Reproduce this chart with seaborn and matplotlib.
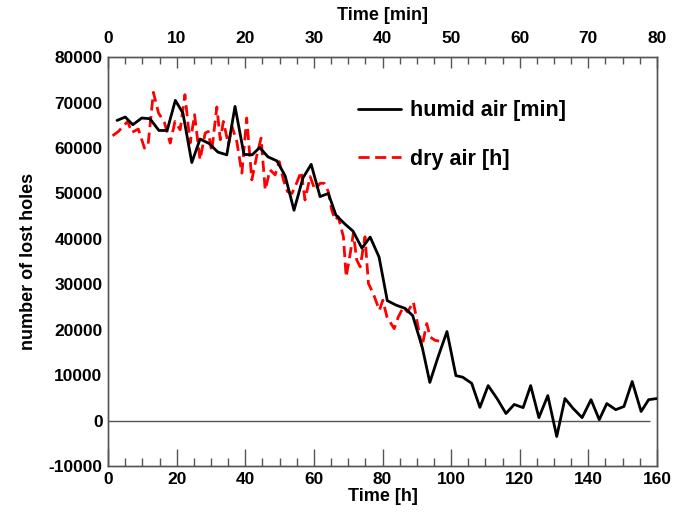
import numpy as np
import pandas as pd
import matplotlib
matplotlib.use("Agg")
import matplotlib.pyplot as plt
from matplotlib.ticker import MultipleLocator
import seaborn as sns

# humid air: time in minutes (top axis), number of lost holes
humid_min = [1.3, 2.5, 3.6, 4.9, 6.1, 7.4, 8.6, 9.8, 10.9, 12.2, 13.4, 14.7, 16.0,
             17.3, 18.5, 19.8, 21.0, 22.1, 23.3, 24.6, 25.8, 27.1, 28.4, 29.6, 30.9,
             32.1, 33.2, 34.5, 35.7, 37.0, 38.2, 39.5, 40.7, 42.0, 43.3, 44.4, 45.8,
             46.9, 48.1, 49.4, 50.7, 51.7, 53.0, 54.2, 55.4, 56.7, 58.0, 59.2, 60.5,
             61.6, 62.8, 64.1, 65.4, 66.6, 67.8, 69.1, 70.4, 71.6, 72.7, 74.0, 75.2,
             76.4, 77.7, 78.8, 80.0]
humid_vals = [66070, 66820, 65120, 66600, 66450, 63860, 63860, 70490, 67700, 56800,
              61970, 61000, 59100, 58500, 69160, 58600, 58500, 60100, 58050, 57170,
              53900, 46300, 53400, 56400, 49300, 50000, 45250, 43300, 41700, 37950,
              40400, 36000, 26400, 25400, 24700, 23100, 16100, 8400, 14000, 19600,
              9900, 9550, 8200, 2900, 7700, 4850, 1550, 3550, 2850, 7700, 650, 5500,
              -3500, 4850, 2650, 650, 4600, 200, 3750, 2400, 3100, 8600, 2000, 4600,
              4850]

# dry air: time in hours (bottom axis)
dry_h = [1.3, 3.0, 5.7, 6.9, 8.8, 10.6, 11.6, 13.2, 14.7, 16.4, 18.1, 19.5, 21.0,
         22.4, 23.9, 25.2, 26.8, 28.3, 29.2, 30.2, 31.7, 32.7, 33.6, 35.1, 36.1,
         37.5, 39.0, 40.4, 41.9, 43.4, 44.6, 45.8, 47.2, 48.7, 49.9, 51.1, 52.3,
         53.6, 54.8, 56.3, 57.4, 58.9, 60.3, 61.8, 63.0, 64.2, 65.2, 66.2, 67.1,
         68.6, 69.4, 70.6, 71.5, 72.5, 73.5, 74.9, 75.9, 77.3, 79.1, 80.1, 81.3,
         83.4, 84.6, 86.1, 87.3, 89.0, 91.5, 92.9, 93.9, 95.3, 96.5]
dry_vals = [62700, 63640, 65850, 63420, 64170, 59980, 60330, 72250, 67700, 65630,
            61080, 65850, 64020, 71740, 61080, 67330, 57400, 63290, 63640, 59230,
            69030, 61810, 65850, 60700, 64750, 61500, 54460, 66600, 52980, 58500,
            62180, 50770, 55190, 54080, 57020, 52980, 50400, 50000, 52000, 54820,
            48570, 53710, 50770, 52240, 52240, 50400, 46360, 44150, 44880, 40460,
            31630, 36800, 41210, 35320, 33840, 40460, 30170, 27970, 24280, 26490,
            22800, 20240, 22800, 25010, 23910, 26110, 16180, 21350, 18390, 17660,
            17500]

sns.set_theme(style="white")
plt.rcParams['font.family'] = ['Liberation Sans', 'DejaVu Sans']
plt.rcParams['font.weight'] = 'bold'
plt.rcParams['text.color'] = 'black'
plt.rcParams['axes.labelcolor'] = 'black'
plt.rcParams['xtick.labelcolor'] = 'black'
plt.rcParams['ytick.labelcolor'] = 'black'
plt.rcParams['axes.unicode_minus'] = False

fig = plt.figure(figsize=(6.8, 5.13), dpi=100)
ax = fig.add_axes([0.159, 0.0916, 0.807, 0.797])

df_dry = pd.DataFrame({'time_h': dry_h, 'holes': dry_vals})
df_humid = pd.DataFrame({'time_min': humid_min, 'holes': humid_vals})

sns.lineplot(data=df_dry, x='time_h', y='holes', ax=ax, color='#ff0000', lw=2.0,
             linestyle=(0, (4, 2)), label='dry air [h]', legend=False, zorder=3)
ax.hlines(0, 0, 158, color='#555555', lw=1.0, zorder=1)

ax2 = ax.twiny()
sns.lineplot(data=df_humid, x='time_min', y='holes', ax=ax2, color='black', lw=2.0,
             label='humid air [min]', legend=False, zorder=4)

ax.set_xlim(0, 160)
ax.set_ylim(-10000, 80000)
ax2.set_xlim(0, 80)

ax.xaxis.set_major_locator(MultipleLocator(20))
ax.xaxis.set_minor_locator(MultipleLocator(5))
ax.yaxis.set_major_locator(MultipleLocator(10000))
ax.yaxis.set_minor_locator(MultipleLocator(2000))
ax2.xaxis.set_major_locator(MultipleLocator(10))
ax2.xaxis.set_minor_locator(MultipleLocator(2.5))

tc = '#555555'
ax.tick_params(axis='both', which='major', direction='in', length=12, width=1,
               color=tc, labelsize=12.5, pad=4, labelcolor='black')
ax.tick_params(axis='both', which='minor', direction='in', length=6, width=1, color=tc)
ax.tick_params(axis='x', which='both', top=False)
ax.tick_params(axis='y', which='both', right=False)
ax2.tick_params(axis='x', which='major', direction='in', length=8, width=1,
                color=tc, labelsize=12.5, pad=8, labelcolor='black')
ax2.tick_params(axis='x', which='minor', direction='in', length=5, width=1, color=tc)

for a in (ax, ax2):
    for s in a.spines.values():
        s.set_color(tc)
        s.set_linewidth(1.0)
    for lab in a.get_xticklabels() + a.get_yticklabels():
        lab.set_fontweight('bold')

ax.set_xlabel('Time [h]', fontsize=13, fontweight='bold', labelpad=1, color='black')
ax.set_ylabel('number of lost holes', fontsize=13, fontweight='bold', labelpad=8,
              color='black')
ax2.set_xlabel('Time [min]', fontsize=13, fontweight='bold', labelpad=8, color='black')

h1, l1 = ax2.get_legend_handles_labels()
h0, l0 = ax.get_legend_handles_labels()
leg = ax2.legend(h1 + h0, l1 + l0, loc='upper left', bbox_to_anchor=(0.526, 0.805),
                 bbox_transform=fig.transFigure, frameon=False, borderpad=0,
                 borderaxespad=0, handlelength=2.0, handletextpad=0.45,
                 labelspacing=1.3, prop={'size': 15.5, 'weight': 'bold'})
for t in leg.get_texts():
    t.set_color('black')

fig.savefig('out.png', dpi=100, facecolor='white')
